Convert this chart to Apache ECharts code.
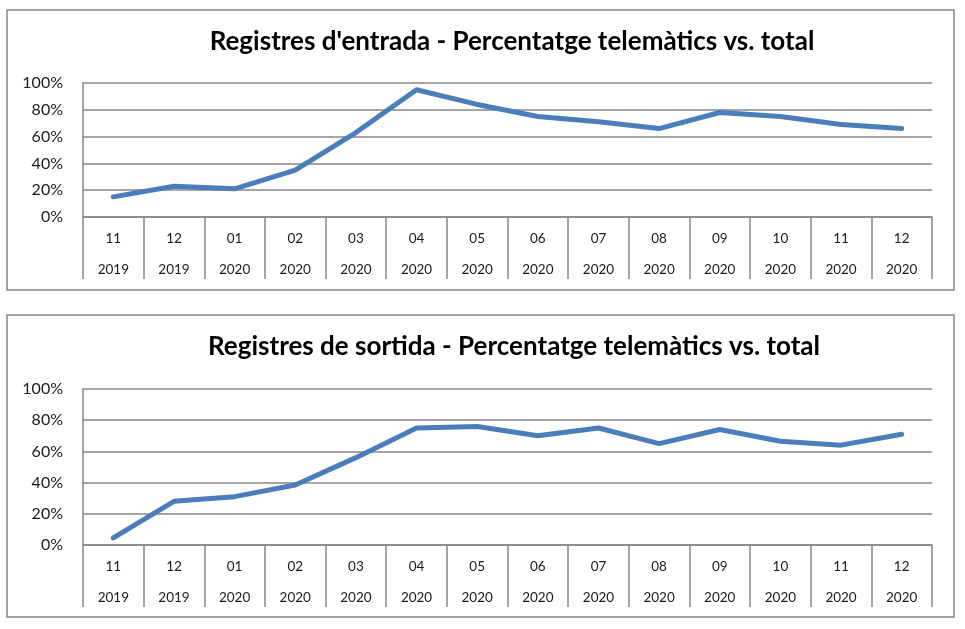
<!DOCTYPE html>
<html>
<head>
<meta charset="utf-8">
<script src="https://cdn.jsdelivr.net/npm/echarts@6/dist/echarts.min.js"></script>
<style>html,body{margin:0;padding:0;background:#fff}#c{width:965px;height:629px}</style>
</head>
<body>
<div id="c"></div>
<script>
const months = ['11','12','01','02','03','04','05','06','07','08','09','10','11','12'];
const years = ['2019','2019','2020','2020','2020','2020','2020','2020','2020','2020','2020','2020','2020','2020'];
const entrada = [15, 23, 21, 35, 63, 95, 84, 75, 71, 66, 78, 75, 69, 66];
const sortida = [4.5, 28, 31, 38.5, 56, 75, 76, 70, 75, 65, 74, 66.5, 64, 71];
const yTicks = [0, 20, 40, 60, 80, 100];
const titles = ["Registres d'entrada - Percentatge telemàtics vs. total", "Registres de sortida - Percentatge telemàtics vs. total"];

const cats = months.map((m, i) => m + '\n' + years[i]);
const gray = '#878787';
const font = 'Lato, "Liberation Sans", sans-serif';

function xAxis(idx) {
  return {
    type: 'category', gridIndex: idx, data: cats, boundaryGap: true,
    axisLine: { show: true, lineStyle: { color: gray, width: 1.5 } },
    axisTick: { show: true, interval: 0, length: 62, lineStyle: { color: gray, width: 1.5 } },
    axisLabel: { interval: 0, margin: 6, lineHeight: 31, fontSize: 13.5, color: '#1a1a1a', fontFamily: font }
  };
}
function yAxis(idx) {
  return {
    type: 'value', gridIndex: idx, min: yTicks[0], max: yTicks[yTicks.length - 1], interval: 20,
    axisLine: { show: true, lineStyle: { color: gray, width: 1.5 } },
    axisTick: { show: false },
    splitLine: { show: true, lineStyle: { color: gray, width: 1.5 } },
    axisLabel: { margin: 20, fontSize: 16, color: '#1a1a1a', fontFamily: font, formatter: v => v + '%' }
  };
}
function lineSeries(idx, data) {
  return {
    type: 'line', xAxisIndex: idx, yAxisIndex: idx, data: data, symbol: 'none', smooth: false,
    lineStyle: { color: '#4a7ebb', width: 5, cap: 'round', join: 'round' }
  };
}

const chart = echarts.init(document.getElementById('c'));
chart.setOption({
  animation: false,
  grid: [
    { left: 83, right: 33, top: 83, height: 134 },
    { left: 83, right: 33, top: 389, height: 156 }
  ],
  xAxis: [xAxis(0), xAxis(1)],
  yAxis: [yAxis(0), yAxis(1)],
  series: [lineSeries(0, entrada), lineSeries(1, sortida)],
  graphic: [
    { type: 'rect', shape: { x: 7, y: 10, width: 947, height: 280 }, style: { fill: 'none', stroke: gray, lineWidth: 1.5 }, z: -1 },
    { type: 'rect', shape: { x: 7, y: 315, width: 947, height: 302 }, style: { fill: 'none', stroke: gray, lineWidth: 1.5 }, z: -1 },
    { type: 'text', x: 512, y: 42, style: { text: titles[0], textAlign: 'center', textVerticalAlign: 'middle', font: 'bold 26px ' + font, fill: '#000' } },
    { type: 'text', x: 514, y: 347, style: { text: titles[1], textAlign: 'center', textVerticalAlign: 'middle', font: 'bold 26px ' + font, fill: '#000' } }
  ]
});
</script>
</body>
</html>
